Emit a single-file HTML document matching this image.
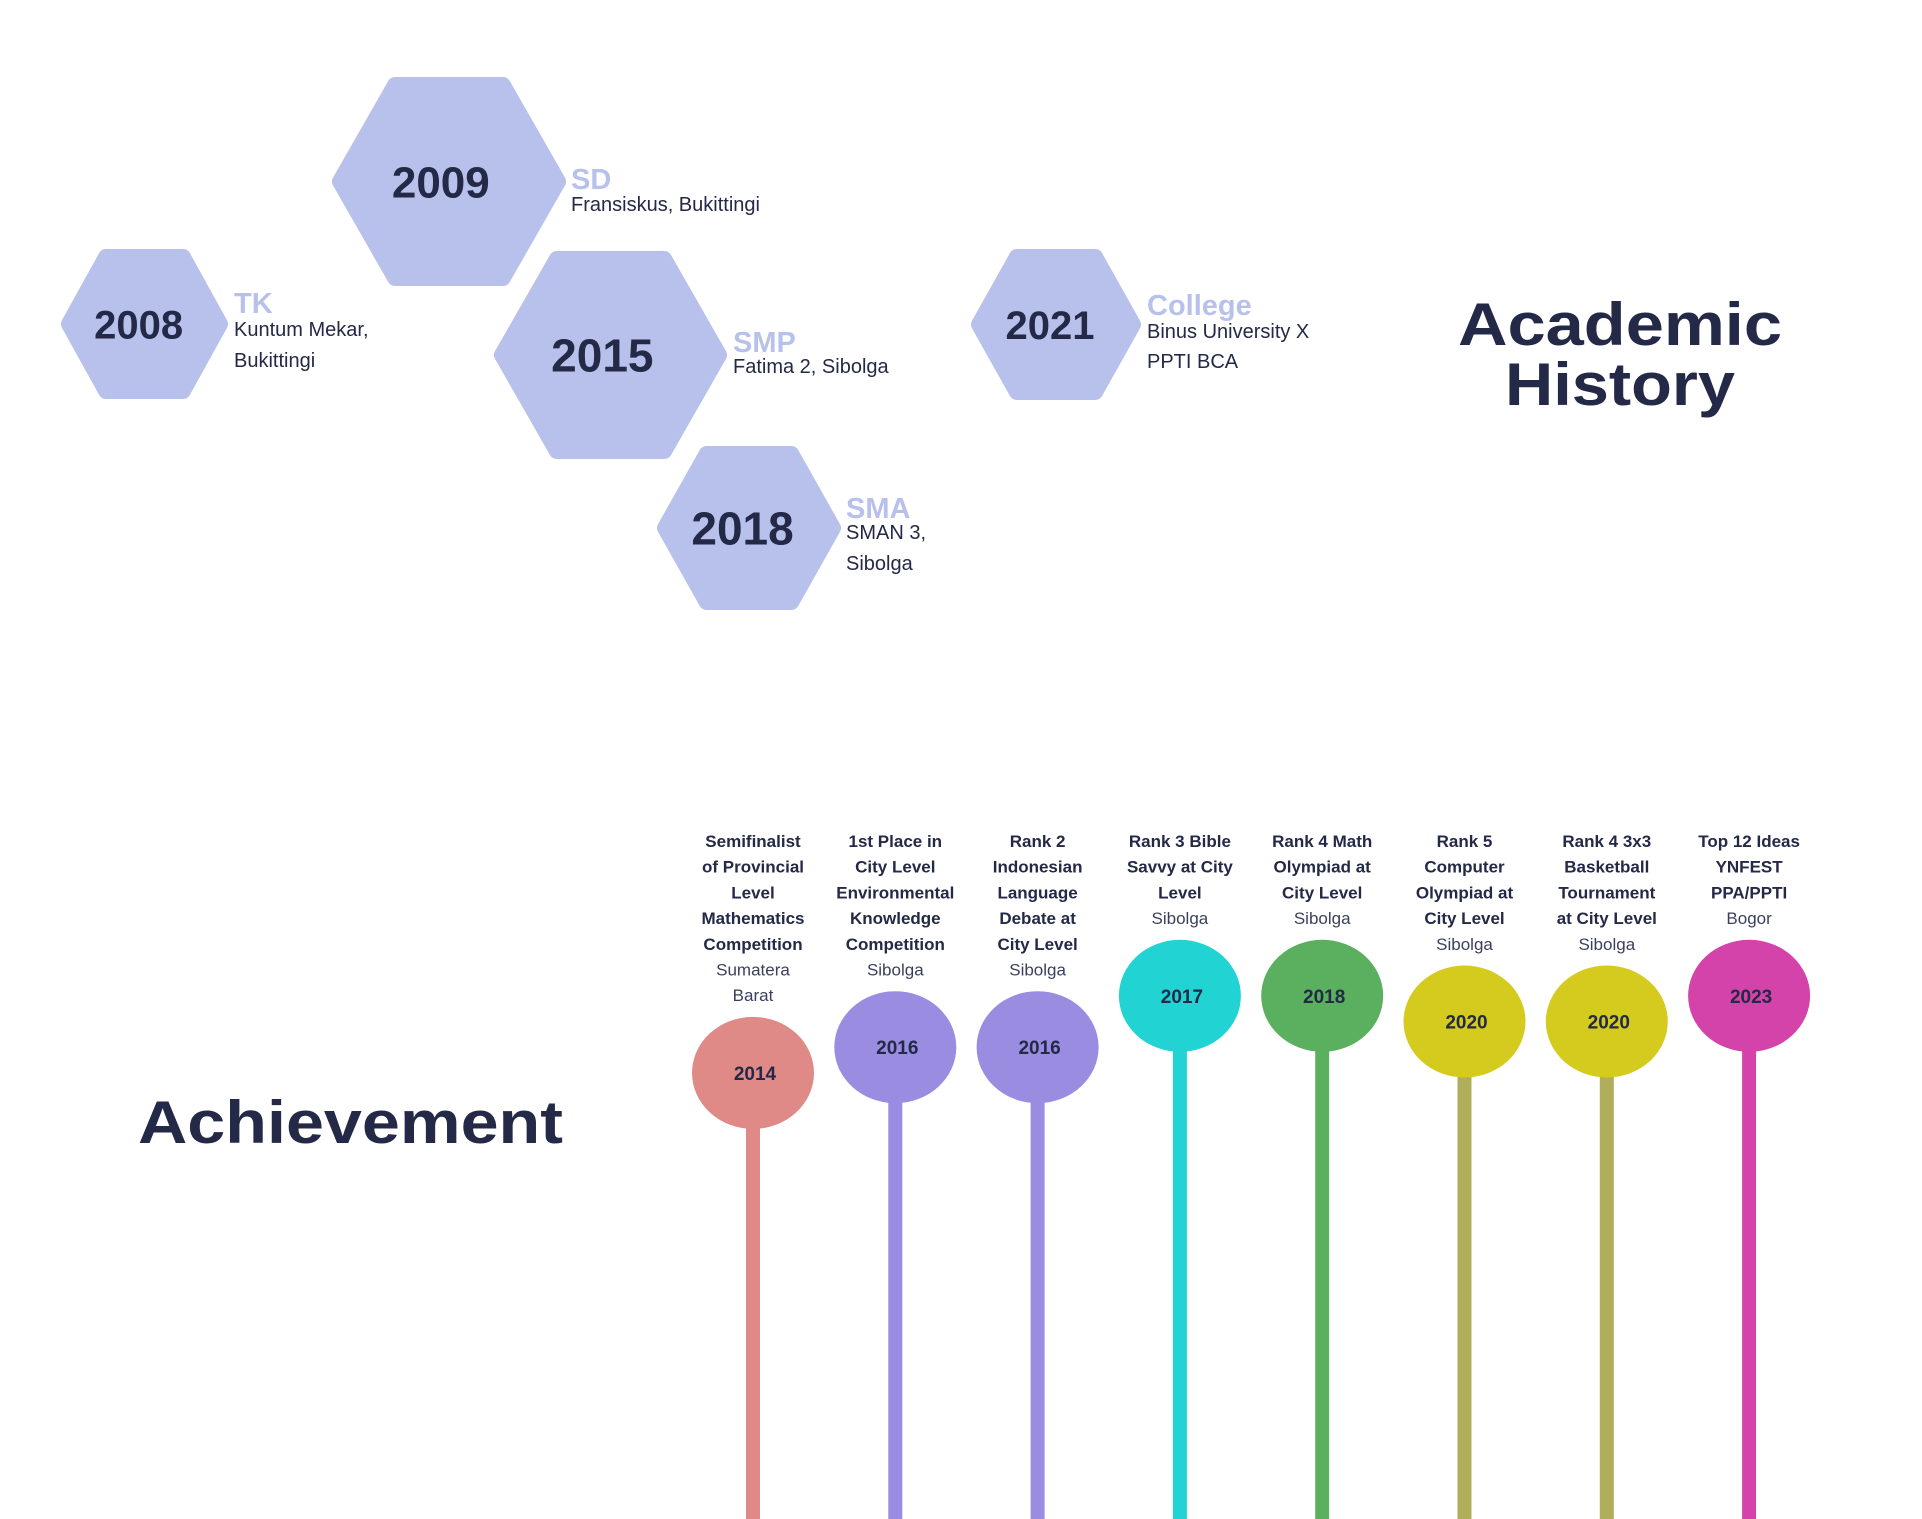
<!DOCTYPE html>
<html><head><meta charset="utf-8">
<style>
html,body{margin:0;padding:0;background:#fff;}
svg{display:block;}
text{font-family:"Liberation Sans",sans-serif;}
</style></head>
<body>
<svg id="page" width="1922" height="1519" viewBox="0 0 1922 1519" xmlns="http://www.w3.org/2000/svg">
<g id="academic"></g>
<text x="1620" y="345" text-anchor="middle" font-size="60" font-weight="bold" fill="#232946" textLength="324" lengthAdjust="spacingAndGlyphs">Academic</text>
<text x="1620" y="405" text-anchor="middle" font-size="60" font-weight="bold" fill="#232946" textLength="230" lengthAdjust="spacingAndGlyphs">History</text>
<text x="138" y="1143" font-size="60" font-weight="bold" fill="#232946" textLength="425" lengthAdjust="spacingAndGlyphs">Achievement</text>
<g id="ach"></g>
</svg>
<script>
// Academic history data
const eduYears = ["2008","2009","2015","2018","2021"];
const eduLevels = ["TK","SD","SMP","SMA","College"];
const eduPlaces = [["Kuntum Mekar,","Bukittingi"],["Fransiskus, Bukittingi"],["Fatima 2, Sibolga"],["SMAN 3,","Sibolga"],["Binus University X","PPTI BCA"]];
// Achievement data
const achYears = ["2014","2016","2016","2017","2018","2020","2020","2023"];
const achTitles = [
 ["Semifinalist","of Provincial","Level","Mathematics","Competition"],
 ["1st Place in","City Level","Environmental","Knowledge","Competition"],
 ["Rank 2","Indonesian","Language","Debate at","City Level"],
 ["Rank 3 Bible","Savvy at City","Level"],
 ["Rank 4 Math","Olympiad at","City Level"],
 ["Rank 5","Computer","Olympiad at","City Level"],
 ["Rank 4 3x3","Basketball","Tournament","at City Level"],
 ["Top 12 Ideas","YNFEST","PPA/PPTI"]];
const achPlaces = [["Sumatera","Barat"],["Sibolga"],["Sibolga"],["Sibolga"],["Sibolga"],["Sibolga"],["Sibolga"],["Bogor"]];

const NS="http://www.w3.org/2000/svg";
function mk(tag,attrs,parent){const e=document.createElementNS(NS,tag);for(const k in attrs)e.setAttribute(k,attrs[k]);parent.appendChild(e);return e;}

const hexBoxes=[[61,249,167,150,40],[332,77,234,209,44],[494,251,233,208,46],[657,446,184,164,46],[971,249,170,151,40]];
const labelPos=[[234,313,336,31],[571,189,211,0],[733,352,373,0],[846,518,539,31],[1147,315,338,30]];
const acad=document.getElementById('academic');
eduYears.forEach((y,i)=>{
  const [x,yy,w,h,fs]=hexBoxes[i];const r=8;
  const pts=[[x+r,yy+h/2],[x+w*0.27,yy+r],[x+w*0.73,yy+r],[x+w-r,yy+h/2],[x+w*0.73,yy+h-r],[x+w*0.27,yy+h-r]].map(p=>p.join(',')).join(' ');
  const hx=mk('polygon',{points:pts,fill:'#b8c1ec',stroke:'#b8c1ec','stroke-width':2*r,'stroke-linejoin':'round'},acad);
  
  
  const t=mk('text',{x:x+w/2-w*0.035,y:yy+h/2+fs*0.36,'text-anchor':'middle','font-size':fs,'font-weight':'bold',fill:'#232946'},acad);
  t.textContent=y;
  
  
  const [lx,ly,py,gap]=labelPos[i];
  const l=mk('text',{x:lx,y:ly,'font-size':29,'font-weight':'bold',fill:'#b8c1ec'},acad);
  l.textContent=eduLevels[i];
  
  
  eduPlaces[i].forEach((p,j)=>{
    const pt=mk('text',{x:lx,y:py+j*gap,'font-size':20,fill:'#232946'},acad);
    pt.textContent=p;
    
    
  });
});

const colors={"2014":["#e08a87","#e08a87"],"2016":["#9a8ce0","#9a8ce0"],"2017":["#22d3d3","#22d3d3"],"2018":["#5bb05f","#5bb05f"],"2020":["#d4cb1e","#b0ae5a"],"2023":["#d443a9","#d443a9"]};
const ach=document.getElementById('ach');
const x0=753,dx=142.3,lineH=25.7,firstLine=847;
achYears.forEach((y,i)=>{
  const cx=x0+i*dx;
  const lines=achTitles[i].length+achPlaces[i].length;
  const cy=firstLine+lines*lineH+46;
  const c=colors[y];
  const st=mk('rect',{x:cx-7,y:cy,width:14,height:1519-cy,fill:c[1]},ach);
  
  
  const e=mk('ellipse',{cx:cx,cy:cy,rx:61,ry:56,fill:c[0]},ach);
  
  
  const t=mk('text',{x:cx+2,y:cy+7,'text-anchor':'middle','font-size':19,'font-weight':'bold',fill:'#232946'},ach);
  t.textContent=y;
  
  
  achTitles[i].forEach((s,j)=>{
    const tt=mk('text',{x:cx,y:firstLine+j*lineH,'text-anchor':'middle','font-size':17,'font-weight':'bold',fill:'#232946'},ach);
    tt.textContent=s;
    
    
  });
  achPlaces[i].forEach((s,j)=>{
    const tt=mk('text',{x:cx,y:firstLine+(achTitles[i].length+j)*lineH,'text-anchor':'middle','font-size':17,fill:'#3a3f5c'},ach);
    tt.textContent=s;
    
    
  });
});
</script>
</body></html>
